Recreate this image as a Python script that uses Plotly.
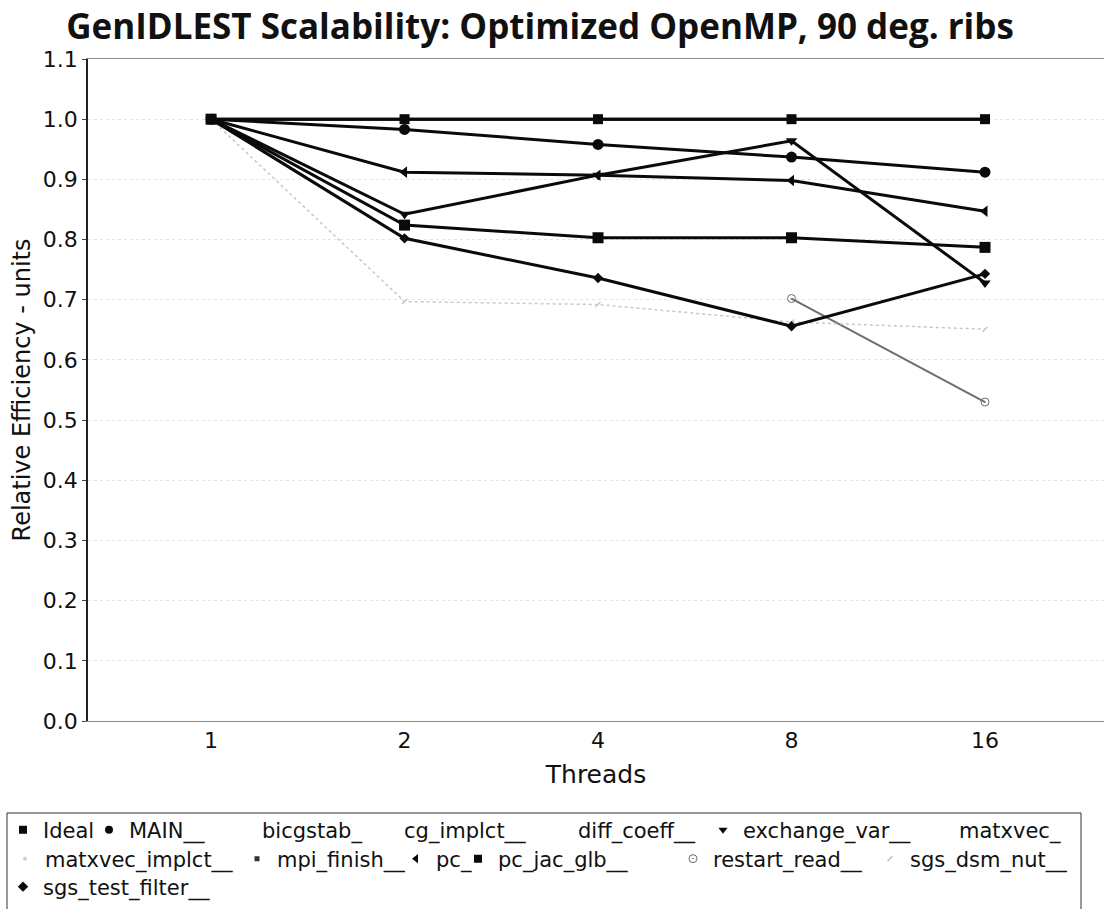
import plotly.graph_objects as go

# Thread counts on the x axis
threads = ["1", "2", "4", "8", "16"]

# Relative efficiency per routine
ideal = [1.0, 1.0, 1.0, 1.0, 1.0]
main_ = [1.0, 0.983, 0.958, 0.937, 0.912]
bicgstab = [1.0, 0.84, 0.905, 0.96, 0.73]
cg_implct = [1.0, 0.823, 0.802, 0.802, 0.786]
diff_coeff = [1.0, 0.912, 0.906, 0.898, 0.846]
exchange_var = [1.0, 0.842, 0.907, 0.964, 0.728]
matxvec = [1.0, 0.80, 0.735, 0.655, 0.742]
matxvec_implct = [1.0, 0.80, 0.736, 0.656, 0.74]
mpi_finish = [1.0, 1.0, 1.0, 1.0, 1.0]
pc = [1.0, 0.912, 0.907, 0.898, 0.847]
pc_jac_glb = [1.0, 0.824, 0.803, 0.803, 0.787]
restart_read = [None, None, None, 0.702, 0.530]
sgs_dsm_nut = [1.0, 0.697, 0.692, 0.663, 0.651]
sgs_test_filter = [1.0, 0.802, 0.736, 0.656, 0.743]

# name, values, line colour, marker symbol, marker size, line width, dash, legend marker colour
series = [
    ("Ideal", ideal, "#0a0a0a", "square", 10, 3, "solid", "#0a0a0a"),
    ("MAIN__", main_, "#0a0a0a", "circle", 11, 3, "solid", "#0a0a0a"),
    ("bicgstab_", bicgstab, "#f6f6f6", "circle", 6, 2, "solid", "#ffffff"),
    ("cg_implct__", cg_implct, "#f6f6f6", "circle", 6, 2, "solid", "#ffffff"),
    ("diff_coeff__", diff_coeff, "#f6f6f6", "circle", 6, 2, "solid", "#ffffff"),
    ("exchange_var__", exchange_var, "#0a0a0a", "triangle-down", 10, 3, "solid", "#0a0a0a"),
    ("matxvec_", matxvec, "#f6f6f6", "circle", 6, 2, "solid", "#ffffff"),
    ("matxvec_implct__", matxvec_implct, "#f0f0f0", "circle", 4, 2, "solid", "#cfcfcf"),
    ("mpi_finish__", mpi_finish, "#0a0a0a", "square", 5, 3, "solid", "#333333"),
    ("pc_", pc, "#0a0a0a", "triangle-left", 10, 3, "solid", "#0a0a0a"),
    ("pc_jac_glb__", pc_jac_glb, "#0a0a0a", "square", 11, 3, "solid", "#0a0a0a"),
    ("restart_read__", restart_read, "#6e6e6e", "circle-open-dot", 8, 2, "solid", "#6a6a6a"),
    ("sgs_dsm_nut__", sgs_dsm_nut, "#c8c8c8", "line-ne", 5, 1.5, "dot", "#c4c4c4"),
    ("sgs_test_filter__", sgs_test_filter, "#0a0a0a", "diamond", 8, 3, "solid", "#0a0a0a"),
]

faint = {"bicgstab_", "cg_implct__", "diff_coeff__", "matxvec_",
         "matxvec_implct__", "sgs_dsm_nut__", "restart_read__", "mpi_finish__"}

# where each legend entry's label starts (px) and which row it sits in
legend_x = {
    "Ideal": 43, "MAIN__": 129, "bicgstab_": 262, "cg_implct__": 404,
    "diff_coeff__": 578, "exchange_var__": 743, "matxvec_": 959,
    "matxvec_implct__": 45, "mpi_finish__": 277, "pc_": 436,
    "pc_jac_glb__": 498, "restart_read__": 713, "sgs_dsm_nut__": 910,
    "sgs_test_filter__": 43,
}
legend_row = {
    "Ideal": 0, "MAIN__": 0, "bicgstab_": 0, "cg_implct__": 0,
    "diff_coeff__": 0, "exchange_var__": 0, "matxvec_": 0,
    "matxvec_implct__": 1, "mpi_finish__": 1, "pc_": 1,
    "pc_jac_glb__": 1, "restart_read__": 1, "sgs_dsm_nut__": 1,
    "sgs_test_filter__": 2,
}
row_y = [830, 859, 887]

W, H = 1104, 909
ML, MR, MT, MB = 88, 0, 59, 188
PW, PH = W - ML - MR, H - MT - MB


def px_to_paper_x(px):
    return (px - ML) / PW


def px_to_paper_y(py):
    return (H - MB - py) / PH


fig = go.Figure()

# faint curves drawn first so the dark ones sit on top
order = [s for s in series if s[0] in faint] + [s for s in series if s[0] not in faint]
for name, vals, col, sym, size, lw, dash, _ in order:
    fig.add_trace(go.Scatter(
        x=threads, y=vals, mode="lines+markers", name=name,
        line=dict(color=col, width=lw, dash=dash),
        marker=dict(symbol=sym, size=size, color=col,
                    line=dict(color=col, width=1.5 if sym.startswith("line") else 0)),
        showlegend=False, connectgaps=False,
    ))

# legend entries show only the marker; each entry gets its own legend slot
legend_layouts = {}
for i, (name, vals, col, sym, size, lw, dash, lcol) in enumerate(series):
    key = "legend" if i == 0 else f"legend{i + 1}"
    fig.add_trace(go.Scatter(
        x=[None], y=[None], mode="markers", name=name,
        marker=dict(symbol=sym, size=min(size, 8), color=lcol,
                    line=dict(color=lcol, width=1.5 if sym.startswith("line") else 0)),
        showlegend=True, legend=key,
    ))
    legend_layouts[key] = dict(
        orientation="h",
        x=px_to_paper_x(legend_x[name] - 40), xanchor="left",
        y=px_to_paper_y(row_y[legend_row[name]]), yanchor="middle",
        bgcolor="rgba(0,0,0,0)", borderwidth=0,
        font=dict(family="DejaVu Sans, sans-serif", size=21, color="#111111"),
        itemwidth=30,
    )

fig.update_layout(**legend_layouts)

# legend frame
fig.add_shape(
    type="rect", xref="paper", yref="paper",
    x0=px_to_paper_x(7), x1=px_to_paper_x(1081),
    y0=px_to_paper_y(914), y1=px_to_paper_y(813),
    line=dict(color="#333333", width=1), fillcolor="rgba(0,0,0,0)",
    layer="below",
)

fig.update_layout(
    width=W, height=H,
    margin=dict(l=ML, r=MR, t=MT, b=MB),
    paper_bgcolor="white", plot_bgcolor="white",
    font=dict(family="DejaVu Sans, sans-serif", color="#111111", size=20),
    title=dict(
        text="<b>GenIDLEST Scalability: Optimized OpenMP, 90 deg. ribs</b>",
        xref="container", x=540 / W, xanchor="center",
        yref="container", y=1 - 27 / H, yanchor="middle",
        font=dict(family="Open Sans, sans-serif", size=35, color="#111111"),
    ),
    xaxis=dict(
        type="category", range=[-0.636, 4.615],
        title=dict(text="Threads", font=dict(size=25), standoff=13),
        showgrid=False, zeroline=False,
        showline=True, linecolor="#8a8a8a", linewidth=1, mirror=True,
        ticks="", tickfont=dict(size=22),
    ),
    yaxis=dict(
        range=[0, 1.1], dtick=0.1, tickformat=".1f",
        title=dict(text="Relative Efficiency - units", font=dict(size=24), standoff=5),
        showgrid=True, gridcolor="#e4e4e4", griddash="dot", gridwidth=1,
        zeroline=False,
        showline=True, linecolor="#222222", linewidth=1.5,
        ticks="outside", ticklen=4, tickcolor="#444444",
        tickfont=dict(size=22),
    ),
)

fig.write_html("out.html")
